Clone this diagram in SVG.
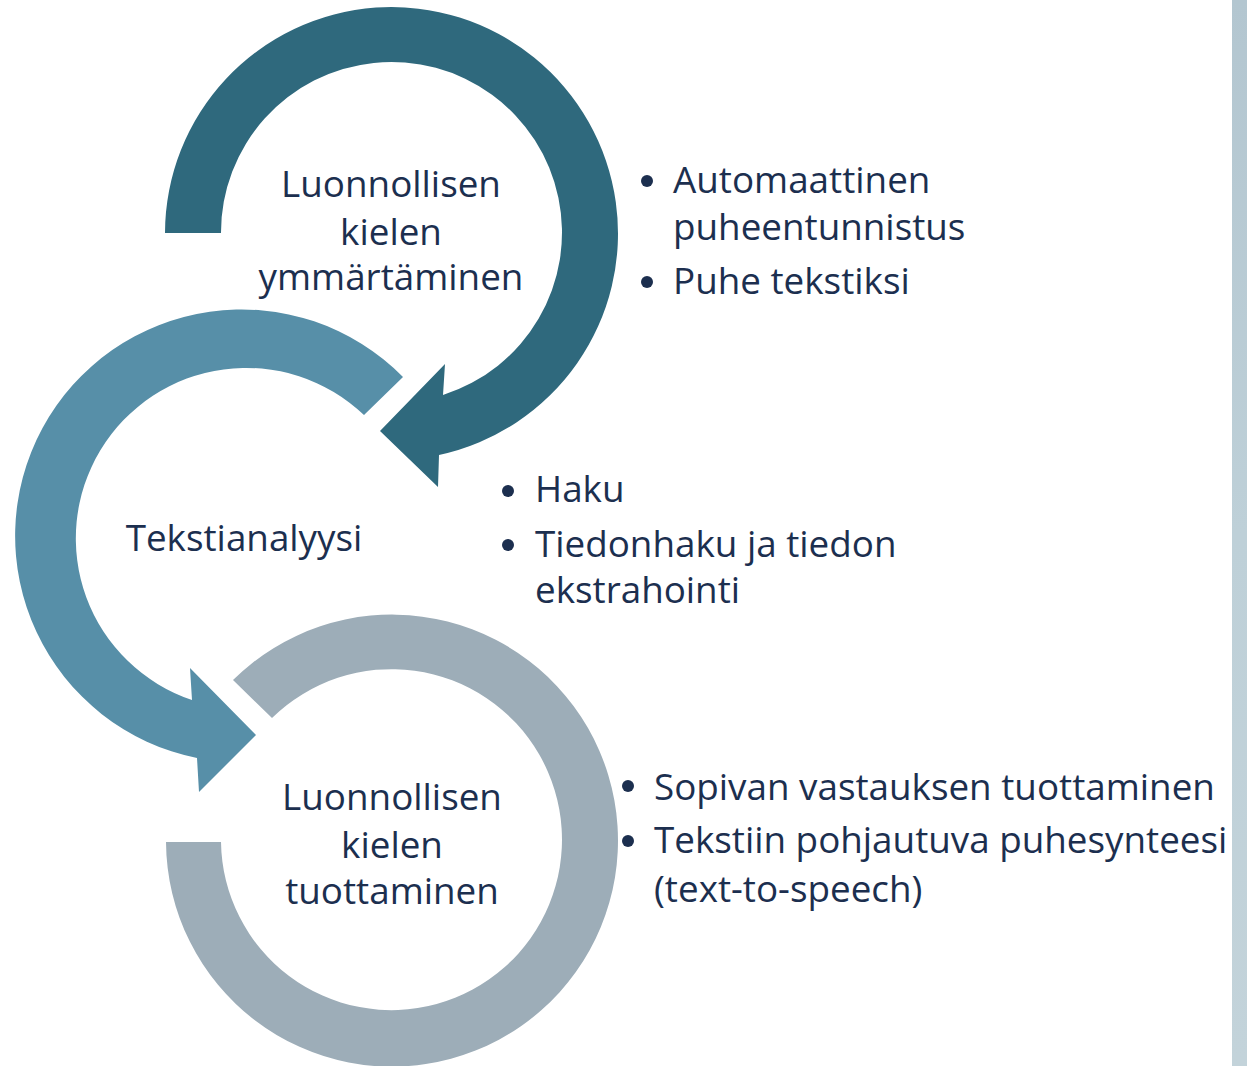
<svg xmlns="http://www.w3.org/2000/svg" width="1247" height="1066" viewBox="0 0 1247 1066">
<defs>
<style>
.t{font-family:"Open Sans","Noto Sans","Liberation Sans",sans-serif;font-size:36.8px;fill:#1C2F4F}
.c{text-anchor:middle}
.b{fill:#1C2F4F}
</style>
<linearGradient id="strip" x1="0" y1="0" x2="0" y2="1">
<stop offset="0" stop-color="#B3C6D0"/>
<stop offset="0.5" stop-color="#BED0D8"/>
<stop offset="1" stop-color="#C3D3DA"/>
</linearGradient>
</defs>
<rect width="1247" height="1066" fill="#FFFFFF"/>
<rect x="1232" y="0" width="15" height="1066" fill="url(#strip)"/>
<g id="connectors">
<path id="arrow-top" fill="#2F697D" d="M 165,233 A 226.5 226.5 0 1 1 439,455 L 438,487 L 380,431 L 445,364 L 443,395 A 170.5 170.5 0 1 0 221,233 Z"/>
<path id="arrow-middle" fill="#578FA8" d="M 403,377 A 226.5 226.5 0 1 0 197,758 L 199,792 L 256,735 L 190,668 L 192,700 A 170.5 170.5 0 1 1 364,415 Z"/>
<path id="arc-bottom" fill="#9DADB8" d="M 166,842 A 226 226 0 1 0 233,680 L 272,718 A 170.5 170.5 0 1 1 221,842 Z"/>
</g>
<g id="node-ymmartaminen">
<text class="t c" x="391" y="197">Luonnollisen</text>
<text class="t c" x="391" y="245">kielen</text>
<text class="t c" x="391" y="290">ymmärtäminen</text>
</g>
<g id="node-tekstianalyysi">
<text class="t c" x="244" y="551">Tekstianalyysi</text>
</g>
<g id="node-tuottaminen">
<text class="t c" x="392" y="810">Luonnollisen</text>
<text class="t c" x="392" y="858">kielen</text>
<text class="t c" x="392" y="904">tuottaminen</text>
</g>
<g id="list-1">
<circle class="b" cx="647" cy="181" r="6"/>
<text class="t" x="673" y="193">Automaattinen</text>
<text class="t" x="673" y="240">puheentunnistus</text>
<circle class="b" cx="647" cy="282" r="6"/>
<text class="t" x="673" y="294">Puhe tekstiksi</text>
</g>
<g id="list-2">
<circle class="b" cx="508" cy="491" r="6"/>
<text class="t" x="535" y="502">Haku</text>
<circle class="b" cx="508" cy="545" r="6"/>
<text class="t" x="535" y="557">Tiedonhaku ja tiedon</text>
<text class="t" x="535" y="603">ekstrahointi</text>
</g>
<g id="list-3">
<circle class="b" cx="628" cy="786" r="6"/>
<text class="t" x="654" y="800">Sopivan vastauksen tuottaminen</text>
<circle class="b" cx="628" cy="841" r="6"/>
<text class="t" x="654" y="853">Tekstiin pohjautuva puhesynteesi</text>
<text class="t" x="654" y="902">(text-to-speech)</text>
</g>
</svg>
